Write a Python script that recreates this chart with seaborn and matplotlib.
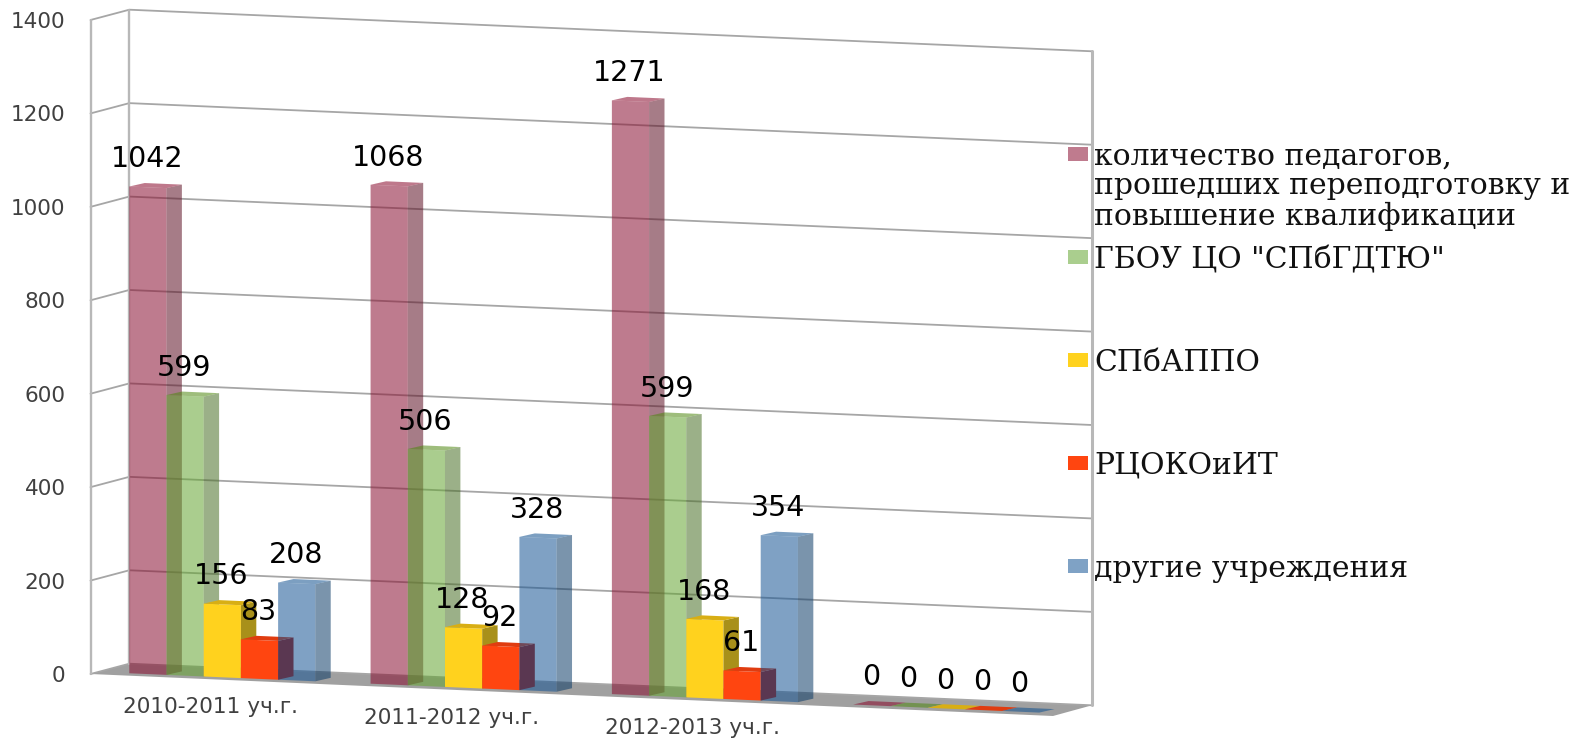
import numpy as np
import pandas as pd
import matplotlib
matplotlib.use('Agg')
import matplotlib.pyplot as plt
import seaborn as sns
from matplotlib.patches import Polygon, Rectangle
from matplotlib.lines import Line2D
from matplotlib.transforms import Affine2D, IdentityTransform

# Chart data
years = ['2010-2011 уч.г.', '2011-2012 уч.г.', '2012-2013 уч.г.', '']
series_names = ['количество педагогов,\nпрошедших переподготовку и\nповышение квалификации',
                'ГБОУ ЦО "СПбГДТЮ"', 'СПбАППО', 'РЦОКОиИТ', 'другие учреждения']
teachers = [1042, 1068, 1271, 0]
gdtyu = [599, 506, 599, 0]
appo = [156, 128, 168, 0]
rcoko = [83, 92, 61, 0]
others = [208, 328, 354, 0]
y_ticks = [0, 200, 400, 600, 800, 1000, 1200, 1400]

# Bar colours, translucent so that the grid and floor show through
front_colors = ['#8A0F31', '#64A531', '#FFD21E', '#FF4510', '#165595']
side_colors = ['#5D1024', '#496F26', '#A8901A', '#AD1400', '#0D3C68']
top_colors = ['#8A0A2C', '#4E8810', '#D8AE14', '#E03C10', '#10508F']
alphas = [0.55, 0.55, 1, 1, 0.55]
swatches = ['#BF7B8E', '#AACE8E', '#FFD21E', '#FF4510', '#7FA2C5']

# Geometry of the fake 3D box, in pixels from the top left corner
W, H = 1577, 738
LEFT, RIGHT, TOP, BOTTOM = 90.5, 1053, 20, 674
SLOPE = 0.0432
WALL = np.array([38.8, 10.3])
BAR_DEPTH = np.array([15.4, 3.5])
LIFT = 2.4
GRID_COLOR = '#A6A6A6'
WALL_COLOR = '#B8B8B8'

sns.set_theme(style='white')
plt.rcParams['font.family'] = ['DejaVu Sans']

fig = plt.figure(figsize=(W / 100, H / 100), dpi=100, facecolor='white')
ax = fig.add_axes([LEFT / W, 1 - BOTTOM / H, (RIGHT - LEFT) / W, (BOTTOM - TOP) / H])
ax.patch.set_alpha(0)

rows = []
for name, values in zip(series_names, [teachers, gdtyu, appo, rcoko, others]):
    for year, value in zip(years, values):
        rows.append({'year': year, 'series': name, 'value': value})
df = pd.DataFrame(rows)

# category order has to stay as is, the empty one is the last group
df['pos'] = df['year'].map({y: i for i, y in enumerate(years)})
sns.barplot(data=df, x='pos', y='value', hue='series', hue_order=series_names,
            palette=front_colors, saturation=1, width=0.771, gap=0, dodge=True,
            legend=False, ax=ax, linewidth=0, native_scale=False)

group_step = 241.3
first_center = 222.3
ax.set_xlim((LEFT - first_center) / group_step, (RIGHT - first_center) / group_step)
ax.set_ylim(0, 1400)
ax.autoscale(False)
ax.set_xlabel('')
ax.set_ylabel('')
sns.despine(ax=ax, left=True, bottom=True)
ax.set_xticks([])
ax.set_yticks(y_ticks)
ax.tick_params(axis='y', length=0, pad=18, labelsize=15.5, labelcolor='#404040')
ax.grid(False)

# Shear in display space: everything sinks to the right
x0 = LEFT
shear = Affine2D.from_values(1, -SLOPE, 0, 1, 0, SLOPE * x0 + LIFT)
sheared = ax.transData + shear


def px(x, y):
    return (x, H - y)


def add_poly(points, color, z):
    poly = Polygon(points, closed=True, facecolor=color, edgecolor='none',
                   transform=IdentityTransform(), zorder=z, clip_on=False)
    ax.add_patch(poly)


def add_line(points, color, lw, z):
    xs, ys = zip(*points)
    ax.add_line(Line2D(xs, ys, color=color, lw=lw, zorder=z, clip_on=False,
                       transform=IdentityTransform(), solid_capstyle='round'))


wall = np.array([WALL[0], WALL[1]])
run = np.array([1092 - LEFT - WALL[0], -SLOPE * (1092 - LEFT - WALL[0])])

# Floor
front_left = np.array(px(LEFT, BOTTOM))
add_poly([front_left, front_left + wall, front_left + wall + run,
          px(RIGHT, 716)], '#A0A0A0', 0.5)

# Walls and grid lines come from the y ticks
for tick in y_ticks:
    front = ax.transData.transform((ax.get_xlim()[0], tick))
    back = front + wall
    add_line([front, back, back + run], GRID_COLOR, 1.3, 0.8)
top_front = ax.transData.transform((ax.get_xlim()[0], y_ticks[-1]))
add_line([top_front, front_left], WALL_COLOR, 1.7, 0.9)
add_line([top_front + wall, front_left + wall], WALL_COLOR, 1.7, 0.9)
add_line([top_front + wall + run, front_left + wall + run], WALL_COLOR, 2.2, 0.9)

# Bars: seaborn draws the front faces, side and top faces follow them
for i, container in enumerate(ax.containers):
    z = 2 + i
    for bar, year in zip(container, years):
        bar.set_transform(sheared)
        bar.set_clip_on(False)
        bar.set_facecolor(matplotlib.colors.to_rgba(front_colors[i], alphas[i]))
        bar.set_zorder(z)
        xa, xb = bar.get_x(), bar.get_x() + bar.get_width()
        h = bar.get_height()
        lt = sheared.transform((xa, h))
        rt = sheared.transform((xb, h))
        rb = sheared.transform((xb, 0))
        if h > 0:
            add_poly([rb, rt, rt + BAR_DEPTH, rb + BAR_DEPTH],
                     matplotlib.colors.to_rgba(side_colors[i], alphas[i]), z)
        add_poly([lt, rt, rt + BAR_DEPTH, lt + BAR_DEPTH],
                 matplotlib.colors.to_rgba(top_colors[i], alphas[i]), z)
        ax.annotate(f'{int(h)}', xy=((xa + xb) / 2, h), xycoords=sheared,
                    xytext=(-1 * 0.72, 28 * 0.72), textcoords='offset points',
                    ha='center', va='center', fontsize=20.5, color='black',
                    zorder=20, annotation_clip=False)

# Category labels follow the floor
for i, year in enumerate(years):
    ax.annotate(year, xy=(i, 0), xycoords=sheared, xytext=(-12 * 0.72, -30 * 0.72),
                textcoords='offset points', ha='center', va='center', fontsize=15.6,
                color='#404040', zorder=20, annotation_clip=False)

# Legend on the right, one entry per 103 px
for i, name in enumerate(series_names):
    y_mid = 154 + 103 * i
    x_l, y_l = px(1067.5, y_mid + 7)
    ax.add_patch(Rectangle((x_l, y_l), 20.5, 14, facecolor=swatches[i], edgecolor='none',
                           transform=IdentityTransform(), clip_on=False, zorder=20))
    x_t, y_t = px(1094, y_mid - 11)
    ax.text(x_t, y_t, name, transform=IdentityTransform(), ha='left', va='top',
            family='DejaVu Serif', fontsize=21.5, linespacing=1.06, color='#111111',
            clip_on=False, zorder=20)

fig.savefig('out.png', dpi=100)
